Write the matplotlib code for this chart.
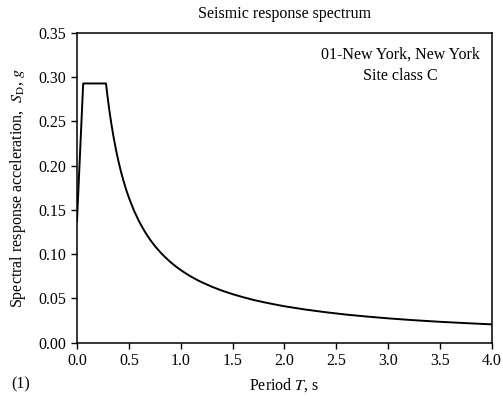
import matplotlib
matplotlib.use("Agg")
import matplotlib.pyplot as plt

plt.rcParams["font.family"] = ["Liberation Serif", "DejaVu Serif"]
plt.rcParams["mathtext.fontset"] = "stix"

# period T (s) and spectral acceleration S_D (g)
period = [0.00, 0.06, 0.28, 0.29, 0.30, 0.315, 0.33, 0.35, 0.375, 0.40, 0.425,
          0.45, 0.475, 0.50, 0.55, 0.60, 0.65, 0.70, 0.75, 0.80, 0.85,
          0.90, 0.95, 1.00, 1.05, 1.10, 1.15, 1.20, 1.30, 1.40, 1.50,
          1.60, 1.70, 1.80, 1.90, 2.00, 2.20, 2.40, 2.60, 2.80, 3.00,
          3.25, 3.50, 3.75, 4.00]
accel = [0.137, 0.293, 0.293, 0.2828, 0.2733, 0.2603, 0.2485, 0.2343, 0.2187, 0.2050, 0.1929,
         0.1822, 0.1726, 0.1640, 0.1491, 0.1367, 0.1262, 0.1171, 0.1093, 0.1025, 0.0965,
         0.0911, 0.0863, 0.0820, 0.0781, 0.0745, 0.0713, 0.0683, 0.0631, 0.0586, 0.0547,
         0.0513, 0.0482, 0.0456, 0.0432, 0.0410, 0.0373, 0.0342, 0.0315, 0.0293, 0.0273,
         0.0252, 0.0234, 0.0219, 0.0205]

xticks = [0.0, 0.5, 1.0, 1.5, 2.0, 2.5, 3.0, 3.5, 4.0]
yticks = [0.00, 0.05, 0.10, 0.15, 0.20, 0.25, 0.30, 0.35]

fig = plt.figure(figsize=(5.03, 3.99), dpi=100)
ax = fig.add_axes([0.153, 0.1416, 0.825, 0.7755])
ax.plot(period, accel, color="black", lw=1.4)

ax.set_xlim(0, 4.0)
ax.set_ylim(0, 0.35)
ax.set_xticks(xticks)
ax.set_xticklabels([f"{t:.1f}" for t in xticks])
ax.set_yticks(yticks)
ax.set_yticklabels([f"{t:.2f}" for t in yticks])
ax.tick_params(direction="out", length=4, width=1, labelsize=11.5, colors="black")
for s in ax.spines.values():
    s.set_linewidth(1.1)

ax.set_title("Seismic response spectrum", fontsize=11.5, pad=11)
ax.set_xlabel("Period $T$, s", fontsize=11.5, labelpad=5)
ax.set_ylabel("Spectral response acceleration,  $S_{\\mathrm{D}}$, $g$", fontsize=11.5, labelpad=8)
ax.text(0.78, 0.895, "01-New York, New York\nSite class C", transform=ax.transAxes,
        ha="center", va="center", fontsize=11.5, linespacing=1.45)
fig.text(0.022, 0.037, "(1)", fontsize=11.5, ha="left", va="center")

fig.savefig("out.png", dpi=100)
